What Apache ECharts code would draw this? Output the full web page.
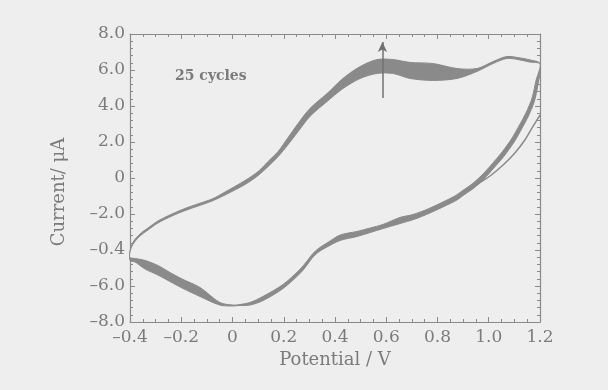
<!DOCTYPE html>
<html>
<head>
<meta charset="utf-8">
<script src="https://cdn.jsdelivr.net/npm/echarts@6/dist/echarts.min.js"></script>
<style>
  html, body { margin: 0; background: #eeeeee; }
  #chart { width: 608px; height: 390px; }
</style>
</head>
<body>
<div id="chart"></div>
<script>
// tick labels as printed (the -4.0 tick is printed "-0.4" in the original)
const xTickLabels = ['–0.4', '–0.2', '0', '0.2', '0.4', '0.6', '0.8', '1.0', '1.2'];
const yTickLabels = ['–8.0', '–6.0', '–0.4', '–2.0', '0', '2.0', '4.0', '6.0', '8.0'];

// outer edge of the band (last cycle), potential V / current uA
const cycle25 = [
  [-0.400, -4.06], [-0.388, -3.56], [-0.361, -3.11], [-0.330, -2.78], [-0.291, -2.39],
  [-0.236, -2.00], [-0.185, -1.69], [-0.135, -1.44], [-0.080, -1.17], [-0.029, -0.78],
  [0.049, -0.14], [0.100, 0.36], [0.139, 0.92], [0.178, 1.47], [0.217, 2.25],
  [0.256, 3.03], [0.302, 3.86], [0.369, 4.69], [0.431, 5.53], [0.498, 6.19], [0.564, 6.58],
  [0.626, 6.58], [0.693, 6.42], [0.782, 6.36], [0.876, 6.08], [0.954, 6.08],
  [1.017, 6.47], [1.071, 6.75], [1.122, 6.67], [1.161, 6.56], [1.200, 6.36],
  [1.192, 5.17], [1.177, 4.22], [1.153, 3.39], [1.126, 2.67], [1.099, 2.00],
  [1.060, 1.22], [1.020, 0.56], [0.981, -0.06], [0.942, -0.56], [0.903, -0.94],
  [0.876, -1.22], [0.837, -1.50], [0.771, -1.94], [0.712, -2.28], [0.654, -2.53],
  [0.587, -2.81], [0.537, -3.03], [0.486, -3.25], [0.420, -3.47], [0.369, -3.83],
  [0.341, -4.06], [0.314, -4.39], [0.291, -4.83], [0.263, -5.31], [0.197, -6.14],
  [0.119, -6.81], [0.068, -7.06], [0.029, -7.08], [0.002, -7.11], [-0.049, -7.06],
  [-0.127, -6.58], [-0.197, -6.11], [-0.244, -5.75], [-0.291, -5.39], [-0.341, -5.06],
  [-0.380, -4.67], [-0.400, -4.58]
];

// inner edge of the band (first cycle)
const cycle1 = [
  [-0.400, -4.11], [-0.388, -3.67], [-0.361, -3.22], [-0.330, -2.89], [-0.291, -2.50],
  [-0.236, -2.11], [-0.185, -1.81], [-0.135, -1.56], [-0.080, -1.28], [-0.029, -0.94],
  [0.049, -0.36], [0.100, 0.14], [0.139, 0.64], [0.178, 1.19], [0.217, 1.86],
  [0.256, 2.58], [0.302, 3.42], [0.369, 4.25], [0.431, 4.97], [0.498, 5.53], [0.564, 5.81],
  [0.626, 5.81], [0.693, 5.53], [0.782, 5.42], [0.876, 5.53], [0.954, 5.92],
  [1.017, 6.36], [1.071, 6.64], [1.122, 6.56], [1.161, 6.44], [1.200, 6.33],
  [1.184, 5.39], [1.169, 4.44], [1.145, 3.61], [1.118, 2.89], [1.091, 2.22],
  [1.052, 1.44], [1.013, 0.78], [0.974, 0.17], [0.935, -0.33], [0.896, -0.72],
  [0.868, -1.00], [0.829, -1.28], [0.763, -1.72], [0.704, -2.03], [0.654, -2.19],
  [0.587, -2.58], [0.537, -2.78], [0.486, -2.97], [0.420, -3.17], [0.369, -3.61],
  [0.341, -3.86], [0.314, -4.19], [0.291, -4.61], [0.263, -5.08], [0.197, -5.92],
  [0.119, -6.58], [0.068, -6.92], [0.029, -7.03], [0.002, -7.06], [-0.049, -6.92],
  [-0.127, -6.08], [-0.197, -5.61], [-0.244, -5.25], [-0.291, -4.86], [-0.341, -4.58],
  [-0.380, -4.47], [-0.400, -4.42]
];

// thin start of the first sweep near the right edge
const firstSweep = [
  [0.907, -0.72], [0.958, -0.33], [1.005, 0.11], [1.056, 0.72],
  [1.102, 1.39], [1.141, 2.11], [1.169, 2.78], [1.200, 3.50]
];

const arrowLine = [[0.585, 4.45], [0.585, 7.55]];
const note = '25 cycles';

const INK = '#8a8a8a';
const TEXT = '#7b7b7b';
const BG = '#eeeeee';
const FONT = 'DejaVu Serif';

const chart = echarts.init(document.getElementById('chart'));

const toPx = (api, arr) => arr.map(p => api.coord(p));

const axisCommon = {
  type: 'value',
  axisLine: { onZero: false, lineStyle: { color: INK, width: 1.2 } },
  axisTick: { inside: true, length: 5, lineStyle: { color: INK } },
  minorTick: { show: true, length: 3, lineStyle: { color: INK } },
  splitLine: { show: false }
};

const option = {
  backgroundColor: BG,
  animation: false,
  grid: { left: 130, right: 68, top: 34, bottom: 68 },
  xAxis: [
    {
      ...axisCommon,
      min: -0.4, max: 1.2, interval: 0.2, position: 'bottom',
      minorTick: { ...axisCommon.minorTick, splitNumber: 4 },
      axisLabel: {
        formatter: v => xTickLabels[Math.round((v + 0.4) / 0.2)],
        fontFamily: FONT, fontSize: 17, color: TEXT, margin: 7
      },
      name: 'Potential / V', nameLocation: 'middle', nameGap: 27,
      nameTextStyle: { fontFamily: FONT, fontSize: 18, color: TEXT }
    },
    {
      ...axisCommon,
      min: -0.4, max: 1.2, interval: 0.2, position: 'top',
      minorTick: { ...axisCommon.minorTick, splitNumber: 4 },
      axisLabel: { show: false }
    }
  ],
  yAxis: [
    {
      ...axisCommon,
      min: -8, max: 8, interval: 2, position: 'left',
      minorTick: { ...axisCommon.minorTick, splitNumber: 5 },
      axisLabel: {
        formatter: v => yTickLabels[Math.round((v + 8) / 2)],
        fontFamily: FONT, fontSize: 17, color: TEXT, margin: 5
      }
    },
    {
      ...axisCommon,
      min: -8, max: 8, interval: 2, position: 'right',
      minorTick: { ...axisCommon.minorTick, splitNumber: 5 },
      axisLabel: { show: false }
    }
  ],
  graphic: [
    {
      type: 'text', left: 175, top: 69, silent: true,
      style: { text: note, font: 'bold 14px "DejaVu Serif"', fill: TEXT }
    },
    {
      type: 'text', x: 59, y: 192, rotation: Math.PI / 2, silent: true,
      style: {
        text: 'Current/ μA', font: '18px "DejaVu Serif"', fill: TEXT,
        align: 'center', verticalAlign: 'middle',
        textAlign: 'center', textVerticalAlign: 'middle'
      }
    }
  ],
  series: [
    {
      // band between first and last cycle
      type: 'custom',
      silent: true,
      data: [[0, 0]],
      renderItem: (params, api) => ({
        type: 'group',
        children: [
          {
            type: 'polygon',
            shape: { points: toPx(api, cycle25), smooth: 0.3 },
            style: { fill: INK, stroke: INK, lineWidth: 1 }
          },
          {
            type: 'polygon',
            shape: { points: toPx(api, cycle1), smooth: 0.3 },
            style: { fill: BG, stroke: INK, lineWidth: 1 }
          }
        ]
      })
    },
    {
      type: 'line',
      data: firstSweep,
      smooth: 0.3,
      symbol: 'none',
      lineStyle: { color: INK, width: 1.5 },
      markLine: {
        silent: true,
        symbol: ['none', 'arrow'],
        symbolSize: [7, 10],
        label: { show: false },
        lineStyle: { color: '#707070', width: 1.5, type: 'solid' },
        data: [[{ coord: arrowLine[0] }, { coord: arrowLine[1] }]]
      }
    }
  ]
};

chart.setOption(option);
</script>
</body>
</html>
